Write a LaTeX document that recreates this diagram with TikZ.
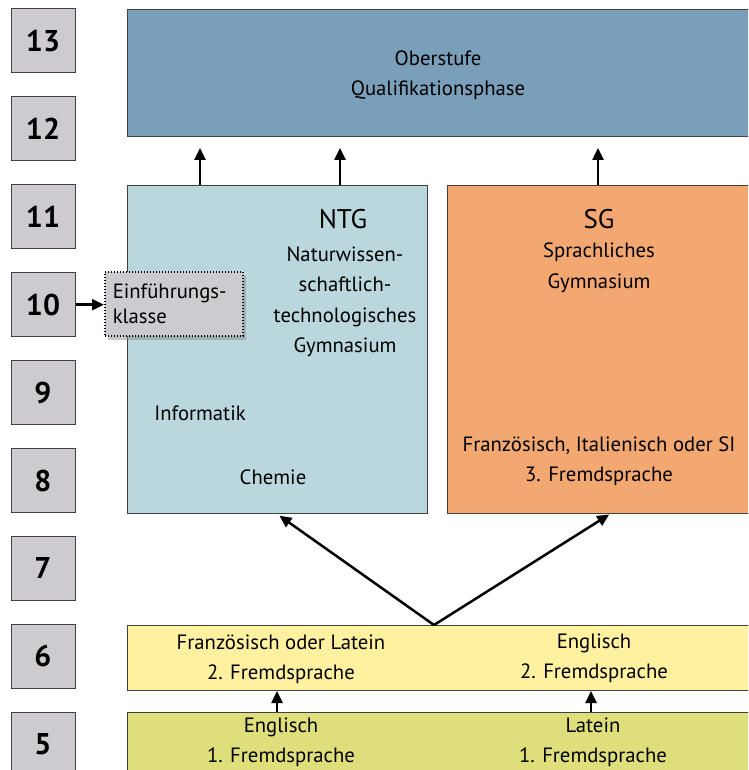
\documentclass[tikz,border=0pt]{standalone}
\usepackage{fontspec}
\setmainfont{PT Sans}
\usetikzlibrary{arrows.meta,shadows,calc}

\definecolor{gradegray}{RGB}{205,203,207}
\definecolor{oberblue}{RGB}{122,159,186}
\definecolor{ntgblue}{RGB}{185,215,220}
\definecolor{sgorange}{RGB}{242,168,112}
\definecolor{sechsyellow}{RGB}{255,241,160}
\definecolor{fuenfgreen}{RGB}{222,223,122}

\tikzset{
  grade/.style={draw=black!75, fill=gradegray, line width=1pt, minimum width=64pt, minimum height=64pt, inner sep=0pt, font=\fontsize{30}{30}\selectfont\bfseries},
  stage/.style={draw=black!75, line width=1pt, anchor=north west, inner sep=0pt},
  txt/.style={align=center, font=\fontsize{20.7}{30.5}\selectfont},
  big/.style={font=\fontsize{27}{27}\selectfont},
  arr/.style={line width=2.5pt, -{Triangle[length=12pt,width=11pt]}},
}

\begin{document}
\begin{tikzpicture}[x=1pt,y=-1pt]
\clip (0,0) rectangle (748,770);

% grades
\foreach \g in {5,...,13}
  \node[grade] (g\g) at (43,{41+87.9*(13-\g)}) {\g};

% stages
\node[stage, fill=oberblue, minimum width=630pt, minimum height=127pt] (ober) at (127,9) {};
\node[stage, fill=ntgblue, minimum width=300pt, minimum height=328pt] (ntg) at (127,185) {};
\node[stage, fill=sgorange, minimum width=310pt, minimum height=328pt] (sg) at (447,185) {};
\node[stage, fill=sechsyellow, minimum width=630pt, minimum height=65pt] (sechs) at (127,625) {};
\node[stage, fill=fuenfgreen, minimum width=630pt, minimum height=70pt] (fuenf) at (127,712) {};

% texts
\node[txt] (obertxt) at (438,75) {Oberstufe\\Qualifikationsphase};
\node[txt, big] (ntgname) at (343,219) {NTG};
\node[txt] (ntgtxt) at (345,302) {Naturwissen-\\schaftlich-\\technologisches\\Gymnasium};
\node[txt] (info) at (200,413) {Informatik};
\node[txt] (chemie) at (273,477) {Chemie};
\node[txt, big] (sgname) at (599,219) {SG};
\node[txt] (sgtxt) at (599,268) {Sprachliches\\Gymnasium};
\node[txt] (sgfremd) at (599,461) {Französisch, Italienisch oder SI\\3. Fremdsprache};
\node[txt] (sechsl) at (281,659) {Französisch oder Latein\\2. Fremdsprache};
\node[txt] (sechsr) at (594,658) {Englisch\\2. Fremdsprache};
\node[txt] (fuenfl) at (281,742) {Englisch\\1. Fremdsprache};
\node[txt] (fuenfr) at (593,742) {Latein\\1. Fremdsprache};

% Einfuehrungsklasse
\node[stage, fill=gradegray, draw=black, dotted, line width=1.5pt, drop shadow={shadow xshift=3pt, shadow yshift=-4pt, opacity=0.45},
  minimum width=138pt, minimum height=64pt, inner xsep=8pt, text width=122pt, align=left, font=\fontsize{20.7}{25}\selectfont] (einf) at (104,271) {Einführungs-\\klasse};

% arrows
\draw[arr] (g10.east) -- (g10.east -| einf.west);
\draw[arr, shorten >=11pt] ($(ntg.north west)+(73,0)$) -- ($(ober.south west)+(73,0)$);
\draw[arr, shorten >=11pt] ($(ntg.north west)+(213,0)$) -- ($(ober.south west)+(213,0)$);
\draw[arr, shorten >=11pt] ($(sg.north west)+(151,0)$) -- ($(ober.south west)+(471,0)$);
\draw[arr, shorten >=3pt] ($(sechs.north west)+(307,0)$) -- ($(ntg.south west)+(150,0)$);
\draw[arr, shorten >=1pt] ($(sechs.north west)+(307,0)$) -- ($(sg.south west)+(163,0)$);
\draw[arr] ($(fuenf.north west)+(150,0)$) -- ($(sechs.south west)+(150,0)$);
\draw[arr] ($(fuenf.north west)+(464,0)$) -- ($(sechs.south west)+(464,0)$);

\end{tikzpicture}
\end{document}
